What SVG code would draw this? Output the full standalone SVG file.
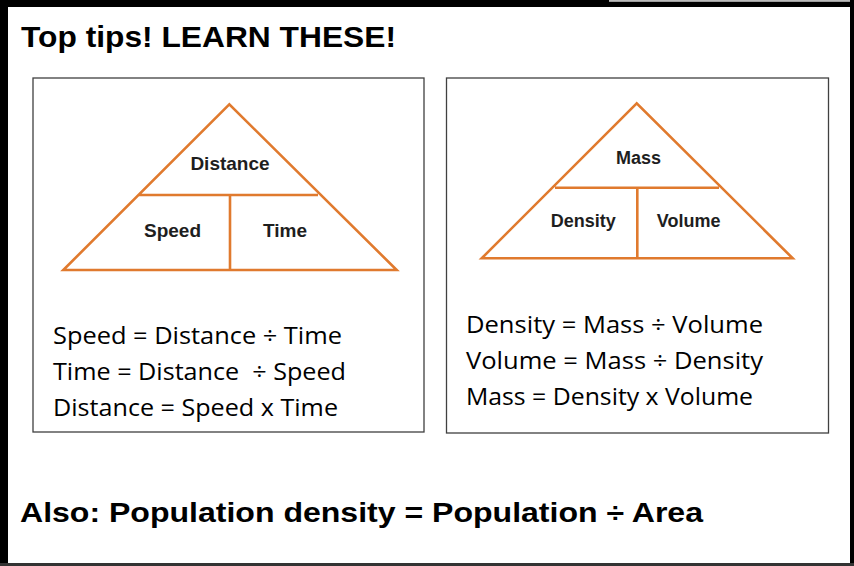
<svg xmlns="http://www.w3.org/2000/svg" width="854" height="566" viewBox="0 0 854 566">
<style>
.frame{fill:#000}
.box{fill:#fff;stroke:#404040;stroke-width:1.3}
.tri{fill:none;stroke:#E07A2E;stroke-width:2.6;stroke-linejoin:miter}
.lbl{font-family:"Liberation Sans",Arial,sans-serif;font-weight:bold;fill:#1e1e1e;text-anchor:middle}
.eq{font-family:"Open Sans","Noto Sans",sans-serif;font-size:24.5px;fill:#000;white-space:pre}
.big{font-family:"Liberation Sans",Arial,sans-serif;font-weight:bold;fill:#000}
</style>
<rect x="0" y="0" width="854" height="566" fill="#fff"/>
<g id="frame">
<rect class="frame" x="0" y="0" width="8" height="566"/>
<rect class="frame" x="0" y="0" width="609" height="7"/>
<rect class="frame" x="609" y="1.5" width="245" height="5.5"/>
<rect x="609" y="0" width="245" height="1.5" fill="#bbb"/>
<rect class="frame" x="850" y="0" width="4" height="566"/>
<rect x="0" y="563" width="854" height="3" fill="#333"/>
</g>
<g id="title"><text class="big" x="21" y="47" font-size="30" textLength="375" lengthAdjust="spacingAndGlyphs">Top tips! LEARN THESE!</text></g>
<g id="left-box">
<rect class="box" x="33" y="78" width="391" height="354"/>
<path class="tri" d="M229.3,104.3 L63.3,270 L396.7,270 Z M138,195 L318,195 M230,195 L230,270"/>
<text class="lbl" x="230" y="170" font-size="19">Distance</text>
<text class="lbl" x="172.5" y="237" font-size="19">Speed</text>
<text class="lbl" x="285" y="237" font-size="19">Time</text>
<text class="eq" x="53" y="344" textLength="289" lengthAdjust="spacingAndGlyphs">Speed = Distance ÷ Time</text>
<text class="eq" x="53" y="380" textLength="293" lengthAdjust="spacingAndGlyphs">Time = Distance  ÷ Speed</text>
<text class="eq" x="53" y="416" textLength="285" lengthAdjust="spacingAndGlyphs">Distance = Speed x Time</text>
</g>
<g id="right-box">
<rect class="box" x="446.5" y="78" width="382" height="355"/>
<path class="tri" d="M636.7,103.3 L481.7,258.3 L792.7,258.3 Z M555,187.7 L719,187.7 M637.3,187.7 L637.3,258.3"/>
<text class="lbl" x="638.5" y="163.5" font-size="18">Mass</text>
<text class="lbl" x="583.3" y="226.7" font-size="18">Density</text>
<text class="lbl" x="688.7" y="226.7" font-size="18">Volume</text>
<text class="eq" x="466" y="333" textLength="297" lengthAdjust="spacingAndGlyphs">Density = Mass ÷ Volume</text>
<text class="eq" x="466" y="369" textLength="297" lengthAdjust="spacingAndGlyphs">Volume = Mass ÷ Density</text>
<text class="eq" x="466" y="405" textLength="287" lengthAdjust="spacingAndGlyphs">Mass = Density x Volume</text>
</g>
<g id="footer"><text class="big" x="20" y="522" font-size="28" textLength="683" lengthAdjust="spacingAndGlyphs">Also: Population density = Population ÷ Area</text></g>
</svg>
